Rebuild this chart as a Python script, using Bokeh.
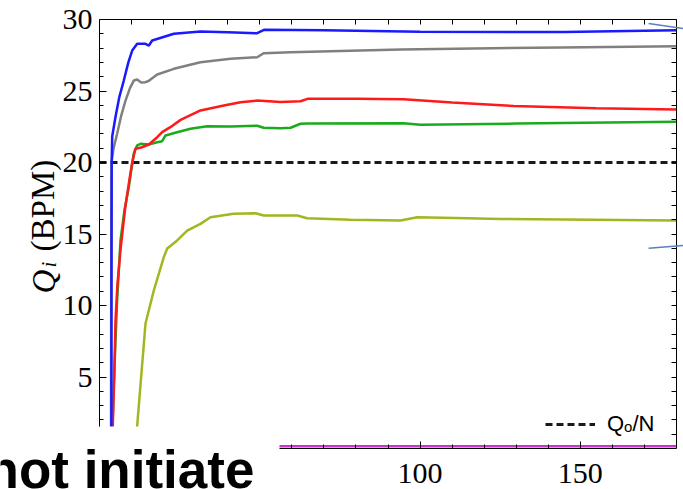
import math
from bokeh.plotting import figure
from bokeh.models import (LinearAxis, FixedTicker, Legend, LegendItem, Label,
                          BoxAnnotation, Arrow, Range1d)
from bokeh.embed import file_html
from bokeh.resources import INLINE

# ---------------- data ----------------
blue_x = [3.7, 3.75, 3.8, 3.96, 5.0, 6.2, 7.58, 9.0, 10.2, 11.76, 14.35, 15.4, 16.44,
          23.2, 31.5, 40.0, 49.2, 51.3, 70.0, 100.0, 145.0, 180.0]
blue_y = [0.5, 12.0, 20.0, 21.82, 23.2, 24.6, 25.73, 27.0, 27.83, 28.3, 28.3, 28.18, 28.53,
          29.0, 29.16, 29.1, 29.04, 29.28, 29.25, 29.15, 29.12, 29.25]

gray_x = [3.6, 3.65, 3.74, 4.4, 5.52, 6.8, 8.11, 9.5, 10.7, 11.76, 13.0, 14.35, 15.3,
          18.0, 23.2, 31.5, 40.9, 49.2, 51.2, 59.6, 94.0, 144.0, 180.0]
gray_y = [0.5, 12.0, 20.0, 21.0, 22.03, 23.3, 24.33, 25.2, 25.73, 25.8, 25.6, 25.62, 25.7,
          26.15, 26.55, 27.01, 27.25, 27.36, 27.64, 27.71, 27.9, 28.05, 28.13]

red_x = [4.0, 4.6, 5.0, 5.6, 6.6, 8.0, 9.2, 10.2, 11.2, 13.0, 15.4, 18.0, 19.55, 22.1,
         25.3, 31.5, 38.8, 44.0, 49.2, 56.5, 62.7, 64.9, 80.0, 94.8, 110.0, 129.2, 155.0, 180.0]
red_y = [0.5, 5.0, 9.0, 11.5, 14.0, 16.8, 18.6, 20.0, 20.96, 21.05, 21.26, 21.77, 22.12, 22.47,
         22.98, 23.64, 23.99, 24.22, 24.33, 24.23, 24.28, 24.45, 24.45, 24.43, 24.2, 23.95, 23.8, 23.71]

green_x = [3.9, 4.3, 5.0, 5.5, 6.55, 7.8, 9.14, 10.0, 10.7, 11.76, 12.8, 15.4, 18.0, 19.55,
           20.6, 24.2, 28.4, 33.6, 40.9, 49.2, 51.2, 56.5, 59.6, 62.7, 65.0, 94.8, 100.1, 130.0, 180.0]
green_y = [0.5, 3.5, 7.55, 10.35, 14.55, 16.7, 18.27, 19.6, 20.63, 21.2, 21.31, 21.26, 21.42, 21.49,
           21.89, 22.12, 22.36, 22.54, 22.52, 22.57, 22.43, 22.4, 22.43, 22.71, 22.72, 22.75, 22.64, 22.72, 22.85]

olive_x = [11.6, 11.76, 14.35, 16.94, 20.06, 21.12, 24.24, 27.36, 31.5, 34.6, 41.8, 48.7, 51.2,
           61.7, 64.8, 78.3, 93.9, 99.1, 114.7, 125.1, 180.0]
olive_y = [0.5, 1.6, 8.74, 11.05, 13.38, 13.99, 14.55, 15.24, 15.71, 16.17, 16.41, 16.45, 16.29,
           16.29, 16.1, 15.99, 15.94, 16.17, 16.1, 16.05, 15.94]

magenta_x = [0.0, 60.0, 120.0, 180.0]
magenta_y = [0.15, 0.15, 0.15, 0.15]

qn_x = [0.0, 180.0]
qn_y = [20.0, 20.0]

x_major_ticks = [50, 100, 150]
x_minor_ticks = [10, 20, 30, 40, 60, 70, 80, 90, 110, 120, 130, 140, 160, 170]
y_major_ticks = [5, 10, 15, 20, 25, 30]
y_minor_ticks = [1, 2, 3, 4, 6, 7, 8, 9, 11, 12, 13, 14, 16, 17, 18, 19,
                 21, 22, 23, 24, 26, 27, 28, 29]

X_LIM = (0, 180)
Y_LIM = (0, 30)

# ---------------- figure ----------------
# The frame fills the whole canvas; the axes are placed at the data limits, so that
# texts and the white box lying outside the data limits are not clipped.
W, H = 683, 489
fl, fr, ft, fb = 99, 676, 19, 448           # where the data limits fall on the canvas
sx = (fr - fl) / (X_LIM[1] - X_LIM[0])
sy = (fb - ft) / (Y_LIM[1] - Y_LIM[0])
xr = Range1d(X_LIM[0] - fl / sx, X_LIM[1] + (W - fr) / sx)
yr = Range1d(Y_LIM[0] - (H - fb) / sy, Y_LIM[1] + ft / sy)

p = figure(width=W, height=H, x_range=xr, y_range=yr,
           output_backend="svg", toolbar_location=None,
           x_axis_location=None, y_axis_location=None,
           min_border=0, min_border_left=0, min_border_right=0,
           min_border_top=0, min_border_bottom=0,
           background_fill_color="white", border_fill_color="white")
p.grid.visible = False
p.outline_line_color = None

SERIF = "Liberation Serif"

def style_axis(ax, labels=True):
    ax.axis_line_color = "black"
    ax.axis_line_width = 1
    ax.major_tick_line_color = "black"
    ax.minor_tick_line_color = "black"
    ax.major_tick_out = 0
    ax.minor_tick_out = 0
    ax.major_tick_in = 7
    ax.minor_tick_in = 4
    if labels:
        ax.major_label_text_font = SERIF
        ax.major_label_text_font_size = "30px"
        ax.major_label_text_color = "black"

yt = FixedTicker(ticks=y_major_ticks, minor_ticks=y_minor_ticks)
xt = FixedTicker(ticks=x_major_ticks, minor_ticks=x_minor_ticks)
x_all = FixedTicker(ticks=[], minor_ticks=sorted(x_major_ticks + x_minor_ticks))
y_all = FixedTicker(ticks=[], minor_ticks=sorted(y_major_ticks + y_minor_ticks))

left = LinearAxis(ticker=yt, fixed_location=X_LIM[0], bounds=Y_LIM)
style_axis(left)
left.major_label_standoff = 7
right = LinearAxis(ticker=y_all, fixed_location=X_LIM[1], bounds=Y_LIM)
style_axis(right, labels=False)
right.minor_tick_in = 5
below = LinearAxis(ticker=xt, fixed_location=Y_LIM[0], bounds=X_LIM)
style_axis(below)
below.major_label_standoff = 15
above = LinearAxis(ticker=x_all, fixed_location=Y_LIM[1], bounds=X_LIM)
style_axis(above, labels=False)
above.minor_tick_in = 5

p.add_layout(left, "left")
p.add_layout(right, "right")
p.add_layout(below, "below")
p.add_layout(above, "above")

# ---------------- lines ----------------
qn = p.line(qn_x, qn_y, line_color="#1a1a1a", line_width=3, line_dash="7 4")
p.line(magenta_x, magenta_y, line_color="#cc33cc", line_width=2.5)
p.line(olive_x, olive_y, line_color="#a3b520", line_width=2.5)
p.line(green_x, green_y, line_color="#1aab1a", line_width=2.5)
p.line(red_x, red_y, line_color="#ff1a1a", line_width=2.5)
p.line(gray_x, gray_y, line_color="#808080", line_width=2.5)
p.line(blue_x, blue_y, line_color="#1a1aff", line_width=2.5)

legend = Legend(items=[LegendItem(label="Q\u2092/N", renderers=[qn])],
                location=(545, 52), border_line_alpha=0, background_fill_alpha=0,
                label_text_font="Liberation Sans", label_text_font_size="22px",
                label_text_color="black", glyph_width=50, glyph_height=20,
                label_standoff=12, padding=0, margin=0, spacing=0)
p.add_layout(legend)

# ---------------- y axis label (rotated) ----------------
p.add_layout(Label(x=-17.16, y=10.84, text="Q", angle=math.pi / 2,
                   text_font=SERIF, text_font_size="33px", text_font_style="italic",
                   text_align="left", text_baseline="alphabetic", text_color="black"))
p.add_layout(Label(x=-15.9, y=12.66, text="i", angle=math.pi / 2,
                   text_font=SERIF, text_font_size="21px", text_font_style="italic",
                   text_align="left", text_baseline="alphabetic", text_color="black"))
p.add_layout(Label(x=-17.47, y=13.78, text="(BPM)", angle=math.pi / 2,
                   text_font=SERIF, text_font_size="33px",
                   text_align="left", text_baseline="alphabetic", text_color="black"))

# ---------------- annotation arrow stubs entering from the right edge ----------------
p.add_layout(Arrow(end=None, x_start=171.3, y_start=29.72, x_end=182.2, y_end=29.37,
                   line_color="#5b7fbf", line_width=1.5))
p.add_layout(Arrow(end=None, x_start=171.3, y_start=14.0, x_end=182.2, y_end=14.2,
                   line_color="#5b7fbf", line_width=1.5))

# ---------------- overlapping white box with text ----------------
p.add_layout(BoxAnnotation(left=-40, right=56.15, bottom=-3.5, top=1.54,
                           fill_color="white", fill_alpha=1.0, line_alpha=0))
p.add_layout(Label(x=-35.25, y=-1.5, text="not initiate",
                   text_font="Liberation Sans", text_font_size="53px", text_font_style="bold",
                   text_align="left", text_baseline="alphabetic", text_color="black"))

open("out.html", "w").write(file_html(p, INLINE))
